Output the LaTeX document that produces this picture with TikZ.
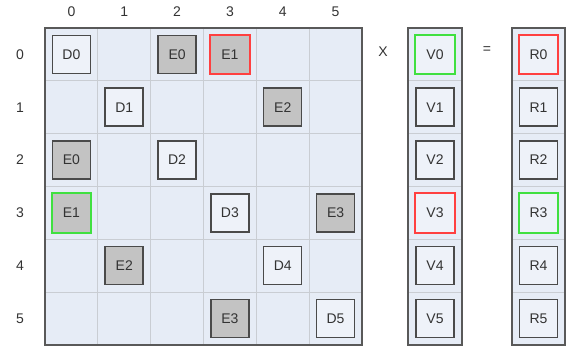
\documentclass[tikz,border=0pt]{standalone}
\usepackage{fontspec}
\setmainfont{Liberation Sans}
\begin{document}
\begin{tikzpicture}[x=1pt,y=-1pt,
  cellbg/.style={fill=bgblue, draw=gridgray, line width=1pt},
  outer/.style={draw=black!65, line width=1.4pt},
  elem/.style={draw=boxborder, line width=1.5pt, fill=boxwhite, minimum width=38pt, minimum height=38pt, inner sep=0pt, font=\fontsize{14}{16}\selectfont, text=txtgray},
  gelem/.style={elem, fill=boxgray},
  hl/.style={draw=none},
  redb/.style={hired, line width=1.8pt},
  greenb/.style={higreen, line width=1.8pt},
  lbl/.style={font=\fontsize{14}{16}\selectfont, text=txtgray}
]
\definecolor{bgblue}{HTML}{E6ECF6}
\definecolor{gridgray}{HTML}{C9CDD3}
\definecolor{boxwhite}{HTML}{EEF2F9}
\definecolor{boxgray}{HTML}{C3C3C3}
\definecolor{boxborder}{HTML}{4A4A4A}
\definecolor{hired}{HTML}{FF4040}
\definecolor{higreen}{HTML}{40E040}
\definecolor{txtgray}{HTML}{333333}
\useasboundingbox (0,0) rectangle (567,347);
\def\cs{52.83}
% main grid
\foreach \r in {0,...,5}{
  \foreach \c in {0,...,5}{
    \path[cellbg] ({45+\c*\cs},{28+\r*\cs}) rectangle ++(\cs,\cs);
  }
  \path[cellbg] (408,{28+\r*\cs}) rectangle ++(54,\cs);
  \path[cellbg] (512,{28+\r*\cs}) rectangle ++(53,\cs);
  \node[lbl] (row\r) at (20,{28+(\r+0.5)*\cs}) {\r};
  \node[lbl] (col\r) at ({45+(\r+0.5)*\cs},12) {\r};
}
\draw[outer] (45,28) rectangle (362,345);
\draw[outer] (408,28) rectangle (462,345);
\draw[outer] (512,28) rectangle (565,345);
% matrix elements
\newcommand{\mcell}[5]{% style, row, col, name, text
  \node[#1] (#4) at ({45+(#3+0.5)*\cs},{28+(#2+0.5)*\cs}) {#5};}
\mcell{elem}{0}{0}{d0}{D0}
\mcell{gelem}{0}{2}{e0a}{E0}
\mcell{gelem,hl}{0}{3}{e1a}{E1}
\mcell{elem}{1}{1}{d1}{D1}
\mcell{gelem}{1}{4}{e2a}{E2}
\mcell{gelem}{2}{0}{e0b}{E0}
\mcell{elem}{2}{2}{d2}{D2}
\mcell{gelem,hl}{3}{0}{e1b}{E1}
\mcell{elem}{3}{3}{d3}{D3}
\mcell{gelem}{3}{5}{e3a}{E3}
\mcell{gelem}{4}{1}{e2b}{E2}
\mcell{elem}{4}{4}{d4}{D4}
\mcell{gelem}{5}{3}{e3b}{E3}
\mcell{elem}{5}{5}{d5}{D5}
% vectors
\node[elem,hl] (V0) at (435,{28+0.5*\cs}) {V0};
\node[elem] (V1) at (435,{28+1.5*\cs}) {V1};
\node[elem] (V2) at (435,{28+2.5*\cs}) {V2};
\node[elem,hl] (V3) at (435,{28+3.5*\cs}) {V3};
\node[elem] (V4) at (435,{28+4.5*\cs}) {V4};
\node[elem] (V5) at (435,{28+5.5*\cs}) {V5};
\node[elem,hl] (R0) at (538.5,{28+0.5*\cs}) {R0};
\node[elem] (R1) at (538.5,{28+1.5*\cs}) {R1};
\node[elem] (R2) at (538.5,{28+2.5*\cs}) {R2};
\node[elem,hl] (R3) at (538.5,{28+3.5*\cs}) {R3};
\node[elem] (R4) at (538.5,{28+4.5*\cs}) {R4};
\node[elem] (R5) at (538.5,{28+5.5*\cs}) {R5};
% highlighted frames
\draw[redb] (e1a.north west) rectangle (e1a.south east);
\draw[greenb] (e1b.north west) rectangle (e1b.south east);
\draw[greenb] (V0.north west) rectangle (V0.south east);
\draw[redb] (V3.north west) rectangle (V3.south east);
\draw[redb] (R0.north west) rectangle (R0.south east);
\draw[greenb] (R3.north west) rectangle (R3.south east);
\node[lbl] (times) at (383,52) {X};
\node[lbl] (eq) at (487,50) {=};
\end{tikzpicture}
\end{document}
